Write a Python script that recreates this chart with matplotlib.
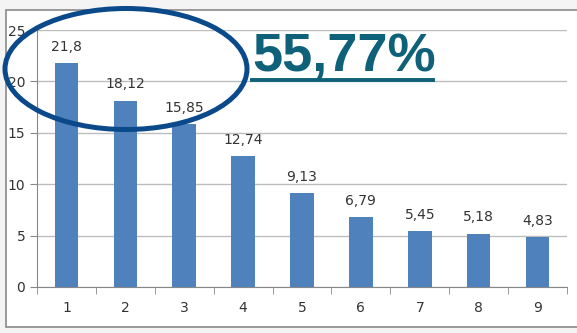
import matplotlib
matplotlib.use("Agg")
import matplotlib.pyplot as plt
from matplotlib.patches import Ellipse, Rectangle

categories = ["1", "2", "3", "4", "5", "6", "7", "8", "9"]
values = [21.8, 18.12, 15.85, 12.74, 9.13, 6.79, 5.45, 5.18, 4.83]
labels = ["21,8", "18,12", "15,85", "12,74", "9,13", "6,79", "5,45", "5,18", "4,83"]
highlight = "55,77%"

plt.rcParams["font.family"] = ["Liberation Sans Narrow", "DejaVu Sans"]

W, H = 577, 333
fig = plt.figure(figsize=(W / 100, H / 100), dpi=100)
fig.patch.set_facecolor("#f4f4f4")

# white chart frame behind the axes
fig.patches.append(Rectangle((6 / W, 1 - 327 / H), 1, (327 - 10) / H,
                             transform=fig.transFigure, facecolor="white",
                             edgecolor="#8a8a8a", linewidth=1.2, zorder=-5))

ax = fig.add_axes([37 / W, 1 - 287 / H, (567 - 37) / W, (287 - 30) / H])
ax.set_zorder(1)
ax.patch.set_alpha(0)
x = list(range(len(categories)))
ax.bar(x, values, width=0.4, color="#4f81bd", zorder=3)
for xi, v, lab in zip(x, values, labels):
    ax.text(xi, v + 0.9, lab, ha="center", va="bottom", fontsize=10, color="#333333")

ax.set_xlim(-0.5, len(categories) - 0.5)
ax.set_ylim(0, 25)
ax.set_yticks([0, 5, 10, 15, 20, 25])
ax.set_xticks([i + 0.5 for i in x[:-1]] + [-0.5, len(categories) - 0.5], minor=True)
ax.set_xticks(x)
ax.set_xticklabels(categories)
ax.tick_params(axis="x", which="major", length=0, pad=10, labelsize=10, labelcolor="#333333")
ax.tick_params(axis="x", which="minor", length=5, color="#888888")
ax.tick_params(axis="y", length=5, color="#888888", labelsize=10, labelcolor="#333333")
ax.grid(axis="y", color="#bdbdbd", linewidth=1, zorder=0)
for side in ["top", "right"]:
    ax.spines[side].set_visible(False)
for side in ["left", "bottom"]:
    ax.spines[side].set_color("#888888")

# ellipse around the first three bars
fig.add_artist(Ellipse((126 / W, 1 - 69 / H), 242 / W, 121 / H,
                       transform=fig.transFigure, fill=False,
                       edgecolor="#0b4a8a", linewidth=3.6, zorder=5))

fig.text(252 / W, 1 - 72 / H, highlight, fontsize=39, fontweight="bold",
         color="#0e6178", family=["Liberation Sans", "DejaVu Sans"], va="baseline",
         zorder=5)
fig.add_artist(plt.Line2D([252 / W, 433 / W], [1 - 80 / H, 1 - 80 / H],
                          transform=fig.transFigure, color="#0e6178",
                          linewidth=2.8, zorder=5))

fig.savefig("out.png", dpi=100, facecolor=fig.get_facecolor())
